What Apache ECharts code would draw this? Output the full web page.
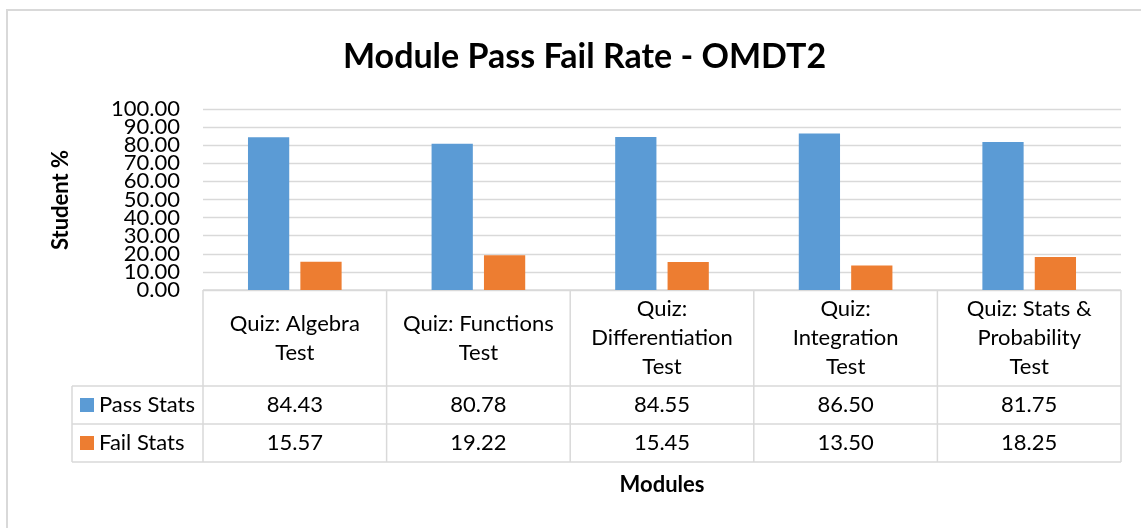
<html>
<head>
    <meta http-equiv="Content-Type" content="text/html; charset=utf-8">
    <script type="text/javascript" src="https://cdn.jsdelivr.net/npm/echarts@6/dist/echarts.min.js"></script>
    <style>
        html, body { margin: 0; padding: 0; background: #fff; }
        #main { width: 1141px; height: 528px; }
    </style>
</head>
<body>
<div id="main"></div>
<script type="text/javascript">
    var categories = ['Quiz: Algebra\nTest', 'Quiz: Functions\nTest', 'Quiz:\nDifferentiation\nTest', 'Quiz:\nIntegration\nTest', 'Quiz: Stats &\nProbability\nTest'];
    var seriesNames = ['Pass Stats', 'Fail Stats'];
    var passValues = [84.43, 80.78, 84.55, 86.50, 81.75];
    var failValues = [15.57, 19.22, 15.45, 13.50, 18.25];
    var yTicks = [0, 10, 20, 30, 40, 50, 60, 70, 80, 90, 100];

    var FONT = 'Lato';
    var FS = 22;
    var lineColor = '#d9d9d9';
    // plot / table geometry
    var gl = 203, gr = 1121, gt = 109, gb = 290;
    var rowHead = 386, rowPass = 424, rowFail = 462, tableLeft = 72;
    var colW = (gr - gl) / categories.length;

    var graphics = [];
    // outer chart border
    graphics.push({type: 'rect', shape: {x: 7, y: 10, width: 1300, height: 700},
        style: {fill: null, stroke: lineColor, lineWidth: 2}, silent: true});

    function hline(x1, x2, y) {
        graphics.push({type: 'line', shape: {x1: x1, y1: y, x2: x2, y2: y}, style: {stroke: lineColor, lineWidth: 1.5}});
    }
    function vline(x, y1, y2) {
        graphics.push({type: 'line', shape: {x1: x, y1: y1, x2: x, y2: y2}, style: {stroke: lineColor, lineWidth: 1.5}});
    }
    hline(gl, gr, gb);
    hline(tableLeft, gr, rowHead);
    hline(tableLeft, gr, rowPass);
    hline(tableLeft, gr, rowFail);
    vline(tableLeft, rowHead, rowFail);
    for (var c = 0; c <= categories.length; c++) {
        vline(gl + c * colW, gb, rowFail);
    }
    // values in table
    [passValues, failValues].forEach(function (vals, r) {
        var cy = r === 0 ? (rowHead + rowPass) / 2 : (rowPass + rowFail) / 2;
        vals.forEach(function (v, i) {
            graphics.push({type: 'text', x: gl + (i + 0.5) * colW, y: cy,
                style: {text: v.toFixed(2), font: FS + 'px ' + FONT, fill: '#000', align: 'center', verticalAlign: 'middle'}});
        });
    });
    // axis titles
    graphics.push({type: 'text', x: 61, y: 200, rotation: Math.PI / 2,
        style: {text: 'Student %', font: 'bold 22px ' + FONT, fill: '#000', align: 'center', verticalAlign: 'middle'}});
    graphics.push({type: 'text', x: 662, y: 485,
        style: {text: 'Modules', font: 'bold 22px ' + FONT, fill: '#000', align: 'center', verticalAlign: 'middle'}});

    var myChart = echarts.init(document.getElementById('main'));
    var option = {
        animation: false,
        backgroundColor: '#fff',
        title: {
            text: 'Module Pass Fail Rate - OMDT2',
            left: 338,
            top: 35,
            textStyle: {fontFamily: FONT, fontWeight: 'bold', fontSize: 34, color: '#000'}
        },
        legend: {
            orient: 'vertical',
            left: 80,
            top: 394,
            padding: 0,
            itemWidth: 14,
            itemHeight: 14,
            itemGap: 16,
            icon: 'rect',
            data: seriesNames,
            textStyle: {fontFamily: FONT, fontSize: FS, color: '#000', lineHeight: 22}
        },
        grid: {left: gl, right: 1141 - gr, top: gt, bottom: 528 - gb, containLabel: false},
        xAxis: {
            type: 'category',
            data: categories,
            axisLine: {show: false},
            axisTick: {show: false},
            axisLabel: {
                interval: 0,
                margin: 48,
                verticalAlign: 'middle',
                fontFamily: FONT,
                fontSize: FS,
                lineHeight: 29,
                color: '#000'
            }
        },
        yAxis: {
            type: 'value',
            min: yTicks[0],
            max: yTicks[yTicks.length - 1],
            interval: yTicks[1] - yTicks[0],
            axisLine: {show: false},
            axisTick: {show: false},
            axisLabel: {show: false},
            splitLine: {lineStyle: {color: lineColor, width: 1.3}}
        },
        series: [
            {
                name: seriesNames[0],
                type: 'bar',
                data: passValues,
                barGap: '27%',
                barCategoryGap: '49%',
                itemStyle: {color: '#5b9bd5'}
            },
            {
                name: seriesNames[1],
                type: 'bar',
                data: failValues,
                itemStyle: {color: '#ed7d31'}
            }
        ],
        graphic: graphics
    };
    myChart.setOption(option);

    // y tick labels overlap like in Excel, so draw them ourselves at the axis positions
    var yLabels = yTicks.map(function (t) {
        var py = myChart.convertToPixel({yAxisIndex: 0}, t);
        return {type: 'text', x: gl - 23, y: py,
            style: {text: t.toFixed(2), font: FS + 'px ' + FONT, fill: '#000', align: 'right', verticalAlign: 'middle'}};
    });
    myChart.setOption({graphic: graphics.concat(yLabels)});
</script>
</body>
</html>
